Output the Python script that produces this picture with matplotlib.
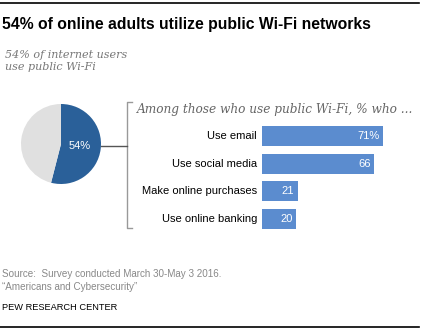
import matplotlib.pyplot as plt
import numpy as np

categories = ['Use email', 'Use social media', 'Make online purchases', 'Use online banking']
values = [71, 66, 21, 20]
value_labels = ['71%', '66', '21', '20']
pie_values = [54, 46]

W, H = 422, 336
fig = plt.figure(figsize=(W / 100, H / 100), dpi=100)

def fx(px):
    return px / W

def fy(py):
    return 1 - py / H

# background overlay axes in pixel coords for rules, bracket, connector
bg = fig.add_axes([0, 0, 1, 1])
bg.set_xlim(0, W)
bg.set_ylim(H, 0)
bg.axis('off')

bg.plot([0, 419], [3, 3], color='black', lw=1.2)
bg.plot([0, 419], [327, 327], color='black', lw=1.2)

sans = 'Liberation Sans'
serif = 'DejaVu Serif'

bg.text(2, 25, '54% of online adults utilize public Wi-Fi networks', fontsize=11.3,
        fontweight='bold', family=sans, va='center', ha='left')
bg.text(5, 61, '54% of internet users\nuse public Wi-Fi', fontsize=8, style='italic',
        family=serif, color='#777777', va='center', ha='left', linespacing=1.15)

# bracket + connector
bg.plot([132, 127, 127, 132], [102, 102, 228, 228], color='#999999', lw=1)
bg.plot([101, 127], [146, 146], color='#555555', lw=1)
bg.text(137, 109, 'Among those who use public Wi-Fi, % who ...', fontsize=8.7,
        style='italic', family=serif, color='#666666', va='center', ha='left')

# footer
bg.text(2, 274, 'Source:  Survey conducted March 30-May 3 2016.', fontsize=7.1,
        family=sans, color='#888888', va='center', ha='left')
bg.text(2, 287, '\u201cAmericans and Cybersecurity\u201d', fontsize=7.1,
        family=sans, color='#888888', va='center', ha='left')
bg.text(2, 307, 'PEW RESEARCH CENTER', fontsize=6.7, family=sans,
        color='black', va='center', ha='left')

# pie
pax = fig.add_axes([fx(21), fy(184), fx(80), 80 / H])
pax.pie(pie_values, colors=['#2a6099', '#e0e0e0'], startangle=90, counterclock=False,
        radius=1, wedgeprops=dict(linewidth=0))
pax.set_xlim(-1, 1)
pax.set_ylim(-1, 1)
pax.text(0.47, -0.05, '54%', color='white', fontsize=8, family=sans,
         ha='center', va='center')
pax.axis('off')

# bars
step = 27.7
top = 136 - step / 2
bax = fig.add_axes([fx(262), fy(top + 4 * step), fx(170), 4 * step / H])
y = np.arange(len(categories))
bax.barh(y, values, height=0.72, color='#5b8ccf')
bax.set_xlim(0, 100)
bax.set_ylim(3.5, -0.5)
bax.axis('off')
for yi, v, lab, cat in zip(y, values, value_labels, categories):
    bax.text(v - 2, yi, lab, color='white', fontsize=8, family=sans,
             ha='right', va='center')
    bax.text(-3, yi, cat, color='black', fontsize=8, family=sans,
             ha='right', va='center')

fig.savefig('out.png', dpi=100)
